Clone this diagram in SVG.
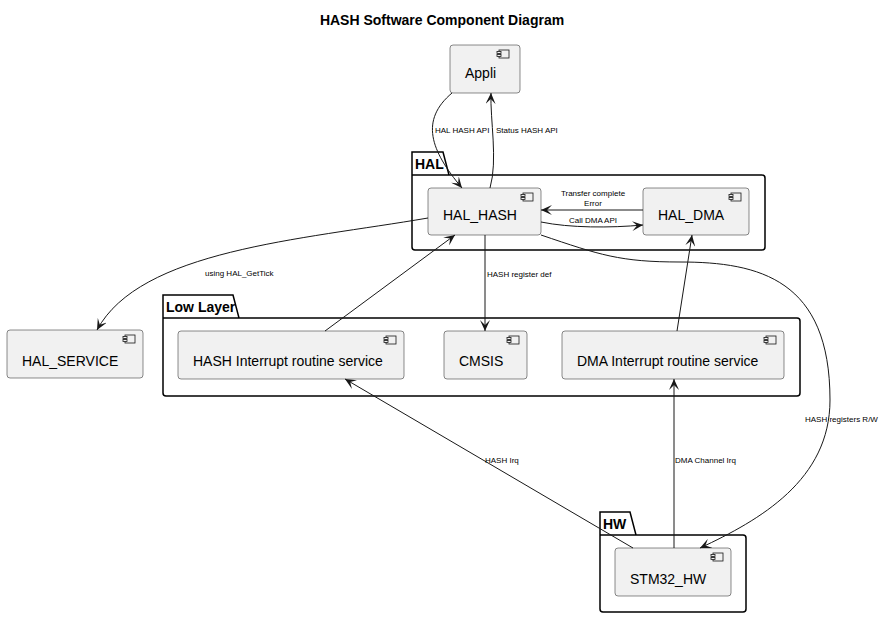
<svg xmlns="http://www.w3.org/2000/svg" width="884" height="618" viewBox="0 0 884 618">
<style>
text{font-family:"Liberation Sans",Arial,sans-serif;fill:#000}
.comp{fill:#f1f1f1;stroke:#181818;stroke-width:0.5}
.pkg{fill:none;stroke:#000;stroke-width:1.5}
.nl{font-size:14px}
.pl{font-size:14px;font-weight:bold}
.el{font-size:8px}
.ic{fill:#f1f1f1;stroke:#181818;stroke-width:0.8}
.e{fill:none;stroke:#181818;stroke-width:1}
</style>
<defs>
<marker id="a" viewBox="0 0 12 10" refX="11" refY="5" markerWidth="12" markerHeight="10" orient="auto" markerUnits="userSpaceOnUse">
<path d="M0,0 L11,5 L0,10 L5,5 Z" fill="#181818"/>
</marker>
<g id="icon"><rect class="ic" x="0" y="0" width="10" height="8"/><rect class="ic" x="-2" y="1.5" width="4" height="2"/><rect class="ic" x="-2" y="4.5" width="4" height="2"/></g>
</defs>
<rect width="884" height="618" fill="#fff"/>
<text x="442" y="25" text-anchor="middle" style="font-size:14px;font-weight:bold">HASH Software Component Diagram</text>

<g id="pkg-HAL"><path class="pkg" d="M412,175 V152 H443 L449,175 H762 Q765,175 765,178 V247 Q765,250 762,250 H415 Q412,250 412,247 Z M412,175 H449"/><text class="pl" x="415" y="169">HAL</text></g>
<g id="pkg-LowLayer"><path class="pkg" d="M163,318 V295 H233 L239,318 H797 Q800,318 800,321 V393 Q800,396 797,396 H166 Q163,396 163,393 Z M163,318 H239"/><text class="pl" x="166" y="312">Low Layer</text></g>
<g id="pkg-HW"><path class="pkg" d="M600,535 V512 H630 L636,535 H743 Q746,535 746,538 V609 Q746,612 743,612 H603 Q600,612 600,609 Z M600,535 H636"/><text class="pl" x="603" y="529">HW</text></g>

<g id="Appli"><rect class="comp" x="450" y="45" width="70" height="48" rx="3"/><use href="#icon" x="499" y="50"/><text class="nl" x="465" y="78">Appli</text></g>
<g id="HAL_HASH"><rect class="comp" x="428" y="188" width="113" height="47" rx="3"/><use href="#icon" x="523" y="193"/><text class="nl" x="443" y="220">HAL_HASH</text></g>
<g id="HAL_DMA"><rect class="comp" x="643" y="188" width="106" height="47" rx="3"/><use href="#icon" x="731" y="193"/><text class="nl" x="658" y="220">HAL_DMA</text></g>
<g id="HAL_SERVICE"><rect class="comp" x="7" y="330" width="136" height="48" rx="3"/><use href="#icon" x="125" y="335"/><text class="nl" x="22" y="366">HAL_SERVICE</text></g>
<g id="HASH_IRQ"><rect class="comp" x="178" y="331" width="226" height="48" rx="3"/><use href="#icon" x="386" y="336"/><text class="nl" x="193" y="366">HASH Interrupt routine service</text></g>
<g id="CMSIS"><rect class="comp" x="444" y="331" width="83" height="48" rx="3"/><use href="#icon" x="509" y="336"/><text class="nl" x="459" y="366">CMSIS</text></g>
<g id="DMA_IRQ"><rect class="comp" x="562" y="331" width="222" height="48" rx="3"/><use href="#icon" x="766" y="336"/><text class="nl" x="577" y="366">DMA Interrupt routine service</text></g>
<g id="STM32_HW"><rect class="comp" x="615" y="548" width="116" height="48" rx="3"/><use href="#icon" x="713" y="553"/><text class="nl" x="630" y="584">STM32_HW</text></g>

<g id="connectors">
<path class="e" marker-end="url(#a)" d="M452,93 C420,120 430,150 462,188"/>
<text class="el" x="435" y="133">HAL HASH API</text>
<path class="e" marker-end="url(#a)" d="M490,188 C498,160 490,120 491,93"/>
<text class="el" x="496" y="133">Status HASH API</text>
<path class="e" marker-end="url(#a)" d="M643,210 H541"/>
<text class="el" x="593" y="196" text-anchor="middle">Transfer complete</text>
<text class="el" x="593" y="206" text-anchor="middle">Error</text>
<path class="e" marker-end="url(#a)" d="M541,222 C570,228 610,228 643,225"/>
<text class="el" x="593" y="223" text-anchor="middle">Call DMA API</text>
<path class="e" marker-end="url(#a)" d="M428,218 C300,240 140,250 97,330"/>
<text class="el" x="205" y="276">using HAL_GetTick</text>
<path class="e" marker-end="url(#a)" d="M485,235 V331"/>
<text class="el" x="487" y="277">HASH register def</text>
<path class="e" marker-end="url(#a)" d="M325,331 L455,235"/>
<path class="e" marker-end="url(#a)" d="M677,331 L692,235"/>
<path class="e" marker-end="url(#a)" d="M541,235 C600,255 620,262 680,262 C760,262 830,280 830,400 C830,480 760,520 700,548"/>
<text class="el" x="805" y="422">HASH registers R/W</text>
<path class="e" marker-end="url(#a)" d="M633,548 L345,379"/>
<text class="el" x="485" y="463">HASH Irq</text>
<path class="e" marker-end="url(#a)" d="M674,548 V379"/>
<text class="el" x="675" y="463">DMA Channel Irq</text>
</g>
</svg>
